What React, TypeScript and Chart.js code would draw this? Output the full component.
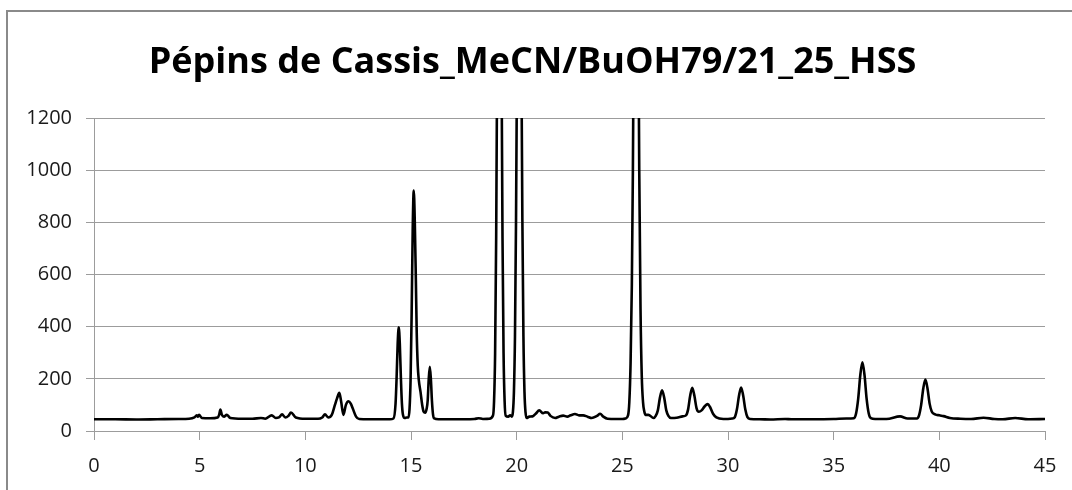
import React, { useEffect, useRef } from "react";
import { Chart, registerables } from "chart.js";

Chart.register(...registerables);

const chartTitle = "Pépins de Cassis_MeCN/BuOH79/21_25_HSS";

const xTickValues = [0, 5, 10, 15, 20, 25, 30, 35, 40, 45];
const yTickValues = [0, 200, 400, 600, 800, 1000, 1200];

// retention time (min)
const times = [
  0, 1, 2, 3, 4, 4.5, 4.75, 4.86, 4.92, 4.97, 5.1, 5.5, 5.85, 5.92, 5.98, 6.05, 6.15, 6.28, 6.45,
  7.0, 7.5, 7.9, 8.1, 8.41, 8.6, 8.75, 8.9, 9.05, 9.2, 9.32, 9.55, 10.0, 10.6, 10.8, 10.93, 11.08,
  11.25, 11.4, 11.5, 11.61, 11.7, 11.8, 11.92, 12.04, 12.15, 12.25, 12.4, 12.55, 13.0, 13.5, 14.0,
  14.17, 14.27, 14.32, 14.37, 14.42, 14.47, 14.52, 14.57, 14.62, 14.7, 14.8, 14.88, 14.93, 14.98,
  15.03, 15.08, 15.13, 15.18, 15.23, 15.27, 15.32, 15.37, 15.45, 15.53, 15.6, 15.67, 15.74, 15.79,
  15.84, 15.89, 15.94, 15.99, 16.04, 16.1, 16.3, 17.0, 17.5, 18.0, 18.2, 18.4, 18.7, 18.88, 18.93,
  18.98, 19.03, 19.08, 19.13, 19.18, 19.23, 19.28, 19.33, 19.38, 19.43, 19.48, 19.6, 19.69, 19.77,
  19.82, 19.87, 19.92, 19.97, 20.02, 20.07, 20.12, 20.17, 20.22, 20.27, 20.32, 20.37, 20.42, 20.47,
  20.6, 20.75, 20.9, 21.07, 21.25, 21.35, 21.47, 21.6, 21.82, 22.0, 22.2, 22.4, 22.55, 22.76, 22.95,
  23.15, 23.35, 23.55, 23.8, 23.95, 24.1, 24.3, 24.7, 25.0, 25.15, 25.27, 25.33, 25.39, 25.45, 25.5,
  25.55, 25.6, 25.65, 25.7, 25.75, 25.8, 25.86, 25.92, 25.98, 26.04, 26.1, 26.23, 26.48, 26.58,
  26.68, 26.78, 26.88, 26.98, 27.08, 27.18, 27.3, 27.57, 27.85, 28.01, 28.11, 28.21, 28.31, 28.41,
  28.51, 28.62, 28.75, 28.9, 29.04, 29.15, 29.3, 29.45, 29.78, 30.2, 30.32, 30.42, 30.52, 30.62,
  30.72, 30.82, 30.92, 31.05, 31.5, 32.0, 32.7, 33.0, 34.0, 35.0, 35.6, 35.96, 36.06, 36.16, 36.26,
  36.36, 36.46, 36.56, 36.66, 36.76, 36.96, 37.5, 38.14, 38.5, 38.94, 39.04, 39.14, 39.24, 39.34,
  39.44, 39.54, 39.64, 39.8, 40.0, 40.2, 40.5, 41.0, 41.5, 42.09, 42.6, 43.0, 43.59, 44.2, 45.0,
];

// detector signal
const signal = [
  45, 45, 44, 45, 46, 47, 52, 60, 55, 62, 50, 49, 52, 62, 82, 62, 55, 62, 50,
  47, 47, 50, 47, 60, 50, 52, 64, 52, 58, 71, 52, 47, 47, 52, 64, 52,
  62, 100, 125, 146, 110, 62, 100, 114, 105, 85, 55, 46, 45, 45, 45,
  48, 106, 207, 335, 398, 335, 207, 106, 62, 50, 52, 52, 84, 196,
  447, 766, 922, 800, 580, 380, 250, 195, 150, 100, 74, 70, 85, 117,
  200, 246, 200, 117, 65, 48, 45, 45, 45, 46, 49, 46, 47, 59, 114,
  298, 740, 1479, 2255, 2600, 2255, 1479, 740, 298, 114, 59, 55, 60, 55,
  71, 149, 363, 810, 1473, 2123, 2400, 2123, 1473, 810, 363, 149, 71, 50,
  55, 56, 66, 79, 68, 72, 71, 58, 50, 55, 59, 55, 60, 65, 60,
  60, 55, 50, 58, 66, 55, 47, 46, 46, 48, 60, 110, 260, 560, 1003,
  1698, 2337, 2600, 2337, 1698, 1003, 470, 210, 110, 75, 62, 62, 50, 58,
  79, 128, 156, 128, 79, 58, 50, 51, 56, 60, 82, 135, 166, 135,
  88, 74, 79, 95, 103, 92, 65, 52, 46, 48, 53, 82, 135, 167,
  135, 82, 53, 46, 45, 44, 46, 45, 45, 46, 48, 49, 67, 123, 214,
  263, 214, 123, 67, 49, 46, 46, 56, 48, 48, 60, 100, 163, 197,
  163, 105, 75, 64, 60, 57, 50, 47, 46, 51, 46, 45, 50, 45, 46,
];

const FONT = "'Open Sans', 'Liberation Sans', sans-serif";
const GRID = "#9c9c9c";
const TEXT = "#1a1a1a";

export default function App() {
  const canvasRef = useRef<HTMLCanvasElement | null>(null);

  useEffect(() => {
    const canvas = canvasRef.current;
    if (!canvas) return;
    const data = times.map((t, i) => ({ x: t, y: signal[i] }));
    const chart = new Chart(canvas, {
      type: "line",
      data: {
        datasets: [
          {
            data,
            borderColor: "#000000",
            borderWidth: 2.6,
            pointRadius: 0,
            fill: false,
            cubicInterpolationMode: "monotone",
          },
        ],
      },
      options: {
        responsive: false,
        animation: false,
        events: [],
        layout: { padding: { left: 20, right: 27, top: 0, bottom: 0 } },
        plugins: {
          legend: { display: false },
          tooltip: { enabled: false },
          title: {
            display: true,
            text: chartTitle,
            color: "#000000",
            font: { family: FONT, size: 36, weight: "bold" },
            padding: { top: 41, bottom: 33.8 },
          },
        },
        scales: {
          x: {
            type: "linear",
            min: 0,
            max: 45,
            afterBuildTicks: (scale: any) => {
              scale.ticks = xTickValues.map((v) => ({ value: v }));
            },
            afterFit: (scale: any) => {
              scale.height = 59;
            },
            grid: {
              drawOnChartArea: false,
              drawTicks: true,
              tickLength: 9,
              color: GRID,
            },
            border: { display: true, color: GRID, width: 1 },
            ticks: {
              color: TEXT,
              font: { family: FONT, size: 20 },
              padding: 14,
              maxRotation: 0,
              autoSkip: false,
              callback: (v: any) => String(v),
            },
          },
          y: {
            type: "linear",
            min: 0,
            max: 1200,
            afterBuildTicks: (scale: any) => {
              scale.ticks = yTickValues.map((v) => ({ value: v }));
            },
            afterFit: (scale: any) => {
              scale.width = 74;
            },
            grid: {
              drawOnChartArea: true,
              drawTicks: true,
              tickLength: 8,
              color: GRID,
            },
            border: { display: true, color: GRID, width: 1 },
            ticks: {
              color: TEXT,
              font: { family: FONT, size: 20 },
              padding: 14,
              autoSkip: false,
              callback: (v: any) => String(v),
            },
          },
        },
      },
    });
    return () => chart.destroy();
  }, []);

  return (
    <div>
      <div
        style={{
          position: "fixed",
          left: 6,
          top: 10,
          width: 1066,
          height: 480,
          borderLeft: "2px solid #8a8a8a",
          borderTop: "2px solid #8a8a8a",
          boxSizing: "border-box",
          pointerEvents: "none",
        }}
      />
      <canvas
        ref={canvasRef}
        width={1072}
        height={490}
        style={{ position: "fixed", left: 0, top: 0, width: 1072, height: 490 }}
      />
    </div>
  );
}
